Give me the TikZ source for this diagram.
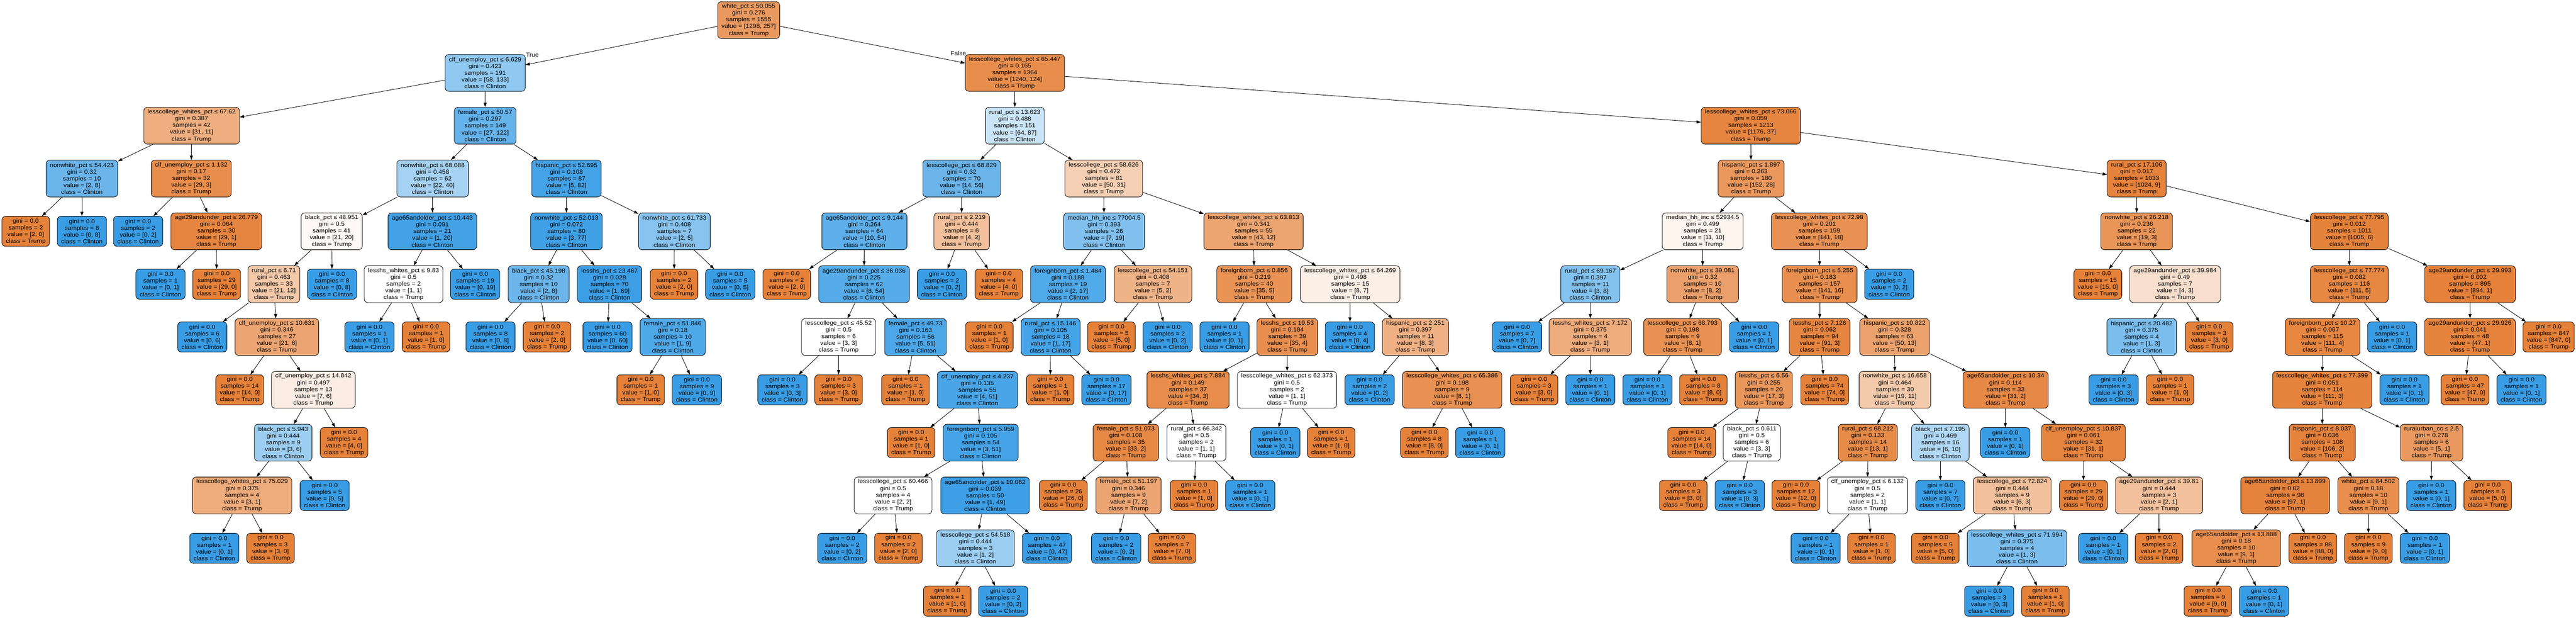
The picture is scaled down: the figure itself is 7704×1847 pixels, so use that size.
\documentclass[tikz,border=0pt]{standalone}
\usepackage{fontspec}
\setmainfont{Liberation Sans}[FakeStretch=1.1]
\usetikzlibrary{arrows.meta}
\definecolor{trumpc}{RGB}{229,129,57}
\definecolor{clintonc}{RGB}{57,157,229}
\newcommand{\dtfont}{\fontsize{17.3pt}{20.2pt}\selectfont}
\tikzset{
 tnode/.style={draw=black, line width=1.3pt, rounded corners=11pt, align=center, inner xsep=11.5pt, inner ysep=1pt, font=\dtfont},
 innode/.style={tnode, minimum height=110pt},
 leafnode/.style={tnode, minimum height=90pt},
 conn/.style={line width=1.3pt, -{Triangle[length=13pt,width=9pt]}},
 elabel/.style={font=\dtfont, inner sep=0pt},
}
% internal node: name, x, depth, condition, gini, a, b
\newcommand{\DTin}[7]{%
  \ifnum#6<#7\relax
    \pgfmathsetmacro{\DTpct}{(#7-#6)/#7*100}%
    \colorlet{DTfill}{clintonc!\DTpct!white}%
    \def\DTcls{Clinton}%
  \else
    \pgfmathsetmacro{\DTpct}{(#6-#7)/#6*100}%
    \colorlet{DTfill}{trumpc!\DTpct!white}%
    \def\DTcls{Trump}%
  \fi
  \node[innode, fill=DTfill] (#1) at (#2,{60+157.9*#3}) {#4\\gini = #5\\samples = \the\numexpr#6+#7\relax\\value = [#6, #7]\\class = \DTcls};%
}
% leaf node: name, x, depth, a, b
\newcommand{\DTleaf}[5]{%
  \ifnum#4<#5\relax
    \colorlet{DTfill}{clintonc}\def\DTcls{Clinton}%
  \else
    \colorlet{DTfill}{trumpc}\def\DTcls{Trump}%
  \fi
  \node[leafnode, fill=DTfill] (#1) at (#2,{60+157.9*#3}) {gini = 0.0\\samples = \the\numexpr#4+#5\relax\\value = [#4, #5]\\class = \DTcls};%
}
\begin{document}
\begin{tikzpicture}[x=1pt,y=-1pt]
\fill[white] (0,0) rectangle (7704,1847);
\useasboundingbox (0,0) rectangle (7704,1847);
% internal nodes
\DTin{root}{2239}{0}{white\_pct ≤ 50.055}{0.276}{1298}{257}
\DTin{A}{1451}{1}{clf\_unemploy\_pct ≤ 6.629}{0.423}{58}{133}
\DTin{V}{3035}{1}{lesscollege\_whites\_pct ≤ 65.447}{0.165}{1240}{124}
\DTin{B}{573}{2}{lesscollege\_whites\_pct ≤ 67.62}{0.387}{31}{11}
\DTin{F}{1451}{2}{female\_pct ≤ 50.57}{0.297}{27}{122}
\DTin{W}{3035}{2}{rural\_pct ≤ 13.623}{0.488}{64}{87}
\DTin{AY}{5236}{2}{lesscollege\_whites\_pct ≤ 73.066}{0.059}{1176}{37}
\DTin{C}{245}{3}{nonwhite\_pct ≤ 54.423}{0.32}{2}{8}
\DTin{D}{572}{3}{clf\_unemploy\_pct ≤ 1.132}{0.17}{29}{3}
\DTin{G}{1294}{3}{nonwhite\_pct ≤ 68.088}{0.458}{22}{40}
\DTin{P}{1694}{3}{hispanic\_pct ≤ 52.695}{0.108}{5}{82}
\DTin{X}{2876}{3}{lesscollege\_pct ≤ 68.829}{0.32}{14}{56}
\DTin{AI}{3301}{3}{lesscollege\_pct ≤ 58.626}{0.472}{50}{31}
\DTin{AZ}{5237}{3}{hispanic\_pct ≤ 1.897}{0.263}{152}{28}
\DTin{BU}{6390}{3}{rural\_pct ≤ 17.106}{0.017}{1024}{9}
\DTin{E}{647}{4}{age29andunder\_pct ≤ 26.779}{0.064}{29}{1}
\DTin{H}{992}{4}{black\_pct ≤ 48.951}{0.5}{21}{20}
\DTin{N}{1293}{4}{age65andolder\_pct ≤ 10.443}{0.091}{1}{20}
\DTin{Q}{1694}{4}{nonwhite\_pct ≤ 52.013}{0.072}{3}{77}
\DTin{U}{2017}{4}{nonwhite\_pct ≤ 61.733}{0.408}{2}{5}
\DTin{Y}{2585}{4}{age65andolder\_pct ≤ 9.144}{0.264}{10}{54}
\DTin{AH}{2876}{4}{rural\_pct ≤ 2.219}{0.444}{4}{2}
\DTin{AJ}{3302}{4}{median\_hh\_inc ≤ 77004.5}{0.393}{7}{19}
\DTin{AN}{3749}{4}{lesscollege\_whites\_pct ≤ 63.813}{0.341}{43}{12}
\DTin{BA}{5092}{4}{median\_hh\_inc ≤ 52934.5}{0.499}{11}{10}
\DTin{BF}{5441}{4}{lesscollege\_whites\_pct ≤ 72.98}{0.201}{141}{18}
\DTin{BV}{6390}{4}{nonwhite\_pct ≤ 26.218}{0.236}{19}{3}
\DTin{BY}{7026}{4}{lesscollege\_pct ≤ 77.795}{0.012}{1005}{6}
\DTin{I}{819}{5}{rural\_pct ≤ 6.71}{0.463}{21}{12}
\DTin{O}{1207}{5}{lesshs\_whites\_pct ≤ 9.83}{0.5}{1}{1}
\DTin{R}{1611}{5}{black\_pct ≤ 45.198}{0.32}{2}{8}
\DTin{S}{1823}{5}{lesshs\_pct ≤ 23.467}{0.028}{1}{69}
\DTin{Z}{2584}{5}{age29andunder\_pct ≤ 36.036}{0.225}{8}{54}
\DTin{AK}{3194}{5}{foreignborn\_pct ≤ 1.484}{0.188}{2}{17}
\DTin{AM}{3448}{5}{lesscollege\_pct ≤ 54.151}{0.408}{5}{2}
\DTin{AO}{3751}{5}{foreignborn\_pct ≤ 0.856}{0.219}{35}{5}
\DTin{AV}{4038}{5}{lesscollege\_whites\_pct ≤ 64.269}{0.498}{8}{7}
\DTin{BB}{4756}{5}{rural\_pct ≤ 69.167}{0.397}{3}{8}
\DTin{BD}{5092}{5}{nonwhite\_pct ≤ 39.081}{0.32}{8}{2}
\DTin{BG}{5442}{5}{foreignborn\_pct ≤ 5.255}{0.183}{141}{16}
\DTin{BW}{6505}{5}{age29andunder\_pct ≤ 39.984}{0.49}{4}{3}
\DTin{BZ}{7026}{5}{lesscollege\_pct ≤ 77.774}{0.082}{111}{5}
\DTin{CH}{7387}{5}{age29andunder\_pct ≤ 29.993}{0.002}{894}{1}
\DTin{J}{828}{6}{clf\_unemploy\_pct ≤ 10.631}{0.346}{21}{6}
\DTin{T}{2012}{6}{female\_pct ≤ 51.846}{0.18}{1}{9}
\DTin{AA}{2508}{6}{lesscollege\_pct ≤ 45.52}{0.5}{3}{3}
\DTin{AB}{2738}{6}{female\_pct ≤ 49.73}{0.163}{5}{51}
\DTin{AL}{3142}{6}{rural\_pct ≤ 15.146}{0.105}{1}{17}
\DTin{AP}{3850}{6}{lesshs\_pct ≤ 19.53}{0.184}{35}{4}
\DTin{AW}{4233}{6}{hispanic\_pct ≤ 2.251}{0.397}{8}{3}
\DTin{BC}{4756}{6}{lesshs\_whites\_pct ≤ 7.172}{0.375}{3}{1}
\DTin{BE}{5032}{6}{lesscollege\_pct ≤ 68.793}{0.198}{8}{1}
\DTin{BH}{5442}{6}{lesshs\_pct ≤ 7.126}{0.062}{91}{3}
\DTin{BK}{5666}{6}{hispanic\_pct ≤ 10.822}{0.328}{50}{13}
\DTin{BX}{6405}{6}{hispanic\_pct ≤ 20.482}{0.375}{1}{3}
\DTin{CA}{6946}{6}{foreignborn\_pct ≤ 10.27}{0.067}{111}{4}
\DTin{CI}{7387}{6}{age29andunder\_pct ≤ 29.926}{0.041}{47}{1}
\DTin{K}{937}{7}{clf\_unemploy\_pct ≤ 14.842}{0.497}{7}{6}
\DTin{AC}{2923}{7}{clf\_unemploy\_pct ≤ 4.237}{0.135}{4}{51}
\DTin{AQ}{3553}{7}{lesshs\_whites\_pct ≤ 7.884}{0.149}{34}{3}
\DTin{AU}{3849}{7}{lesscollege\_whites\_pct ≤ 62.373}{0.5}{1}{1}
\DTin{AX}{4343}{7}{lesscollege\_whites\_pct ≤ 65.386}{0.198}{8}{1}
\DTin{BI}{5275}{7}{lesshs\_pct ≤ 6.56}{0.255}{17}{3}
\DTin{BL}{5667}{7}{nonwhite\_pct ≤ 16.658}{0.464}{19}{11}
\DTin{BR}{5998}{7}{age65andolder\_pct ≤ 10.34}{0.114}{31}{2}
\DTin{CB}{6945}{7}{lesscollege\_whites\_pct ≤ 77.399}{0.051}{111}{3}
\DTin{L}{847}{8}{black\_pct ≤ 5.943}{0.444}{3}{6}
\DTin{AD}{2933}{8}{foreignborn\_pct ≤ 5.959}{0.105}{3}{51}
\DTin{AR}{3367}{8}{female\_pct ≤ 51.073}{0.108}{33}{2}
\DTin{AT}{3578}{8}{rural\_pct ≤ 66.342}{0.5}{1}{1}
\DTin{BJ}{5239}{8}{black\_pct ≤ 0.611}{0.5}{3}{3}
\DTin{BM}{5586}{8}{rural\_pct ≤ 68.212}{0.133}{13}{1}
\DTin{BO}{5803}{8}{black\_pct ≤ 7.195}{0.469}{6}{10}
\DTin{BS}{6231}{8}{clf\_unemploy\_pct ≤ 10.837}{0.061}{31}{1}
\DTin{CC}{6945}{8}{hispanic\_pct ≤ 8.037}{0.036}{106}{2}
\DTin{CG}{7272}{8}{ruralurban\_cc ≤ 2.5}{0.278}{5}{1}
\DTin{M}{724}{9}{lesscollege\_whites\_pct ≤ 75.029}{0.375}{3}{1}
\DTin{AE}{2671}{9}{lesscollege\_pct ≤ 60.466}{0.5}{2}{2}
\DTin{AF}{2946}{9}{age65andolder\_pct ≤ 10.062}{0.039}{1}{49}
\DTin{AS}{3375}{9}{female\_pct ≤ 51.197}{0.346}{7}{2}
\DTin{BN}{5585}{9}{clf\_unemploy\_pct ≤ 6.132}{0.5}{1}{1}
\DTin{BP}{6018}{9}{lesscollege\_pct ≤ 72.824}{0.444}{6}{3}
\DTin{BT}{6457}{9}{age29andunder\_pct ≤ 39.81}{0.444}{2}{1}
\DTin{CD}{6834}{9}{age65andolder\_pct ≤ 13.899}{0.02}{97}{1}
\DTin{CF}{7083}{9}{white\_pct ≤ 84.502}{0.18}{9}{1}
\DTin{AG}{2917}{10}{lesscollege\_pct ≤ 54.518}{0.444}{1}{2}
\DTin{BQ}{6032}{10}{lesscollege\_whites\_pct ≤ 71.994}{0.375}{1}{3}
\DTin{CE}{6688}{10}{age65andolder\_pct ≤ 13.888}{0.18}{9}{1}
% leaves
\DTleaf{Ca}{77}{4}{2}{0}
\DTleaf{Cb}{245}{4}{0}{8}
\DTleaf{Da}{413}{4}{0}{2}
\DTleaf{Ea}{480}{5}{0}{1}
\DTleaf{Eb}{648}{5}{29}{0}
\DTleaf{Ia}{605}{6}{0}{6}
\DTleaf{Ja}{717}{7}{14}{0}
\DTleaf{Ma}{641}{10}{0}{1}
\DTleaf{Mb}{809}{10}{3}{0}
\DTleaf{Lb}{971}{9}{0}{5}
\DTleaf{Kb}{1029}{8}{4}{0}
\DTleaf{Hb}{993}{5}{0}{8}
\DTleaf{Oa}{1105}{6}{0}{1}
\DTleaf{Ob}{1274}{6}{1}{0}
\DTleaf{Nb}{1421}{5}{0}{19}
\DTleaf{Ra}{1467}{6}{0}{8}
\DTleaf{Rb}{1636}{6}{2}{0}
\DTleaf{Sa}{1817}{6}{0}{60}
\DTleaf{Ta}{1916}{7}{1}{0}
\DTleaf{Tb}{2084}{7}{0}{9}
\DTleaf{Ua}{2016}{5}{2}{0}
\DTleaf{Ub}{2184}{5}{0}{5}
\DTleaf{Ya}{2353}{5}{2}{0}
\DTleaf{AAa}{2340}{7}{0}{3}
\DTleaf{AAb}{2508}{7}{3}{0}
\DTleaf{ABa}{2708}{7}{1}{0}
\DTleaf{ACa}{2725}{8}{1}{0}
\DTleaf{AEa}{2519}{10}{0}{2}
\DTleaf{AEb}{2687}{10}{2}{0}
\DTleaf{AGa}{2833}{11}{1}{0}
\DTleaf{AGb}{3000}{11}{0}{2}
\DTleaf{AFb}{3131}{10}{0}{47}
\DTleaf{AHa}{2817}{5}{0}{2}
\DTleaf{AHb}{2987}{5}{4}{0}
\DTleaf{AKa}{2959}{6}{1}{0}
\DTleaf{ALa}{3141}{7}{1}{0}
\DTleaf{ALb}{3309}{7}{0}{17}
\DTleaf{AMa}{3324}{6}{5}{0}
\DTleaf{AMb}{3492}{6}{0}{2}
\DTleaf{AOa}{3662}{6}{0}{1}
\DTleaf{ARa}{3180}{9}{26}{0}
\DTleaf{ASa}{3338}{10}{0}{2}
\DTleaf{ASb}{3505}{10}{7}{0}
\DTleaf{ATa}{3571}{9}{1}{0}
\DTleaf{ATb}{3739}{9}{0}{1}
\DTleaf{AUa}{3814}{8}{0}{1}
\DTleaf{AUb}{3981}{8}{1}{0}
\DTleaf{AVa}{4037}{6}{0}{4}
\DTleaf{AWa}{4096}{7}{0}{2}
\DTleaf{AXa}{4260}{8}{8}{0}
\DTleaf{AXb}{4427}{8}{0}{1}
\DTleaf{BBa}{4537}{6}{0}{7}
\DTleaf{BCa}{4588}{7}{3}{0}
\DTleaf{BCb}{4756}{7}{0}{1}
\DTleaf{BEa}{4927}{7}{0}{1}
\DTleaf{BEb}{5094}{7}{8}{0}
\DTleaf{BDb}{5246}{6}{0}{1}
\DTleaf{BIa}{5059}{8}{14}{0}
\DTleaf{BJa}{5034}{9}{3}{0}
\DTleaf{BJb}{5203}{9}{0}{3}
\DTleaf{BHb}{5457}{7}{74}{0}
\DTleaf{BMa}{5371}{9}{12}{0}
\DTleaf{BNa}{5430}{10}{0}{1}
\DTleaf{BNb}{5597}{10}{1}{0}
\DTleaf{BOa}{5803}{9}{0}{7}
\DTleaf{BPa}{5788}{10}{5}{0}
\DTleaf{BQa}{5949}{11}{0}{3}
\DTleaf{BQb}{6117}{11}{1}{0}
\DTleaf{BRa}{5997}{8}{0}{1}
\DTleaf{BSa}{6231}{9}{29}{0}
\DTleaf{BTa}{6290}{10}{0}{1}
\DTleaf{BTb}{6457}{10}{2}{0}
\DTleaf{BFb}{5650}{5}{0}{2}
\DTleaf{BVa}{6274}{5}{15}{0}
\DTleaf{BXa}{6321}{7}{0}{3}
\DTleaf{BXb}{6490}{7}{1}{0}
\DTleaf{BWb}{6607}{6}{3}{0}
\DTleaf{CEa}{6603}{11}{9}{0}
\DTleaf{CEb}{6771}{11}{0}{1}
\DTleaf{CDb}{6917}{10}{88}{0}
\DTleaf{CFa}{7083}{10}{9}{0}
\DTleaf{CFb}{7252}{10}{0}{1}
\DTleaf{CGa}{7271}{9}{0}{1}
\DTleaf{CGb}{7440}{9}{5}{0}
\DTleaf{CAb}{7191}{7}{0}{1}
\DTleaf{BZb}{7154}{6}{0}{1}
\DTleaf{CIa}{7372}{7}{47}{0}
\DTleaf{CIb}{7541}{7}{0}{1}
\DTleaf{CHb}{7622}{6}{847}{0}
% edges
\foreach \p/\c in {root/A, root/V, A/B, A/F, B/C, B/D, C/Ca, C/Cb, D/Da, D/E, E/Ea, E/Eb,
  F/G, F/P, G/H, G/N, H/I, H/Hb, I/Ia, I/J, J/Ja, J/K, K/L, K/Kb, L/M, L/Lb, M/Ma, M/Mb,
  N/O, N/Nb, O/Oa, O/Ob, P/Q, P/U, Q/R, Q/S, R/Ra, R/Rb, S/Sa, S/T, T/Ta, T/Tb, U/Ua, U/Ub,
  V/W, V/AY, W/X, W/AI, X/Y, X/AH, Y/Ya, Y/Z, Z/AA, Z/AB, AA/AAa, AA/AAb, AB/ABa, AB/AC,
  AC/ACa, AC/AD, AD/AE, AD/AF, AE/AEa, AE/AEb, AF/AG, AF/AFb, AG/AGa, AG/AGb, AH/AHa, AH/AHb,
  AI/AJ, AI/AN, AJ/AK, AJ/AM, AK/AKa, AK/AL, AL/ALa, AL/ALb, AM/AMa, AM/AMb, AN/AO, AN/AV,
  AO/AOa, AO/AP, AP/AQ, AP/AU, AQ/AR, AQ/AT, AR/ARa, AR/AS, AS/ASa, AS/ASb, AT/ATa, AT/ATb,
  AU/AUa, AU/AUb, AV/AVa, AV/AW, AW/AWa, AW/AX, AX/AXa, AX/AXb,
  AY/AZ, AY/BU, AZ/BA, AZ/BF, BA/BB, BA/BD, BB/BBa, BB/BC, BC/BCa, BC/BCb, BD/BE, BD/BDb,
  BE/BEa, BE/BEb, BF/BG, BF/BFb, BG/BH, BG/BK, BH/BI, BH/BHb, BI/BIa, BI/BJ, BJ/BJa, BJ/BJb,
  BK/BL, BK/BR, BL/BM, BL/BO, BM/BMa, BM/BN, BN/BNa, BN/BNb, BO/BOa, BO/BP, BP/BPa, BP/BQ,
  BQ/BQa, BQ/BQb, BR/BRa, BR/BS, BS/BSa, BS/BT, BT/BTa, BT/BTb,
  BU/BV, BU/BY, BV/BVa, BV/BW, BW/BX, BW/BWb, BX/BXa, BX/BXb, BY/BZ, BY/CH,
  BZ/CA, BZ/BZb, CA/CB, CA/CAb, CB/CC, CB/CG, CC/CD, CC/CF, CD/CE, CD/CDb, CE/CEa, CE/CEb,
  CF/CFa, CF/CFb, CG/CGa, CG/CGb, CH/CI, CH/CHb, CI/CIa, CI/CIb}
  \draw[conn] (\p) -- (\c);
\node[elabel] (lblT) at (1592,165) {True};
\node[elabel] (lblF) at (2866,160) {False};
\end{tikzpicture}
\end{document}
